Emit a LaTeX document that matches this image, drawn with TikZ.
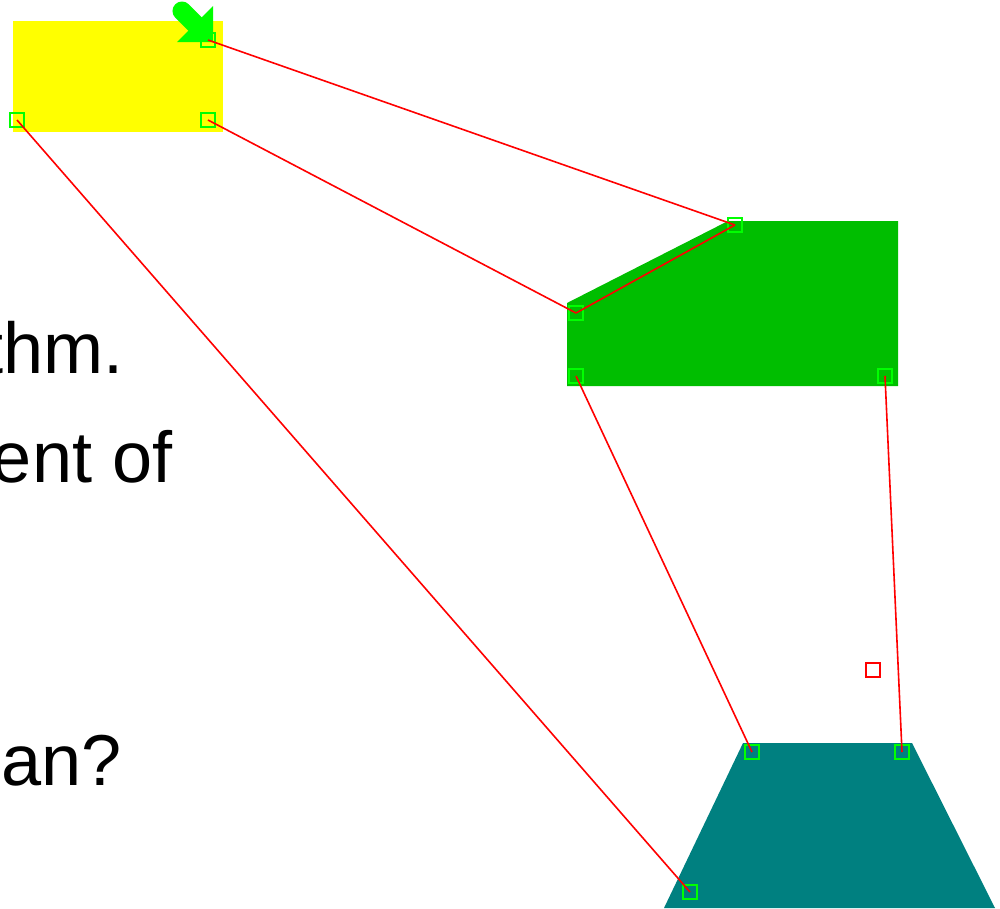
\documentclass[tikz,border=0pt]{standalone}
\usepackage{fontspec}
\setmainfont{Liberation Sans}
\definecolor{ylw}{RGB}{255,255,0}
\definecolor{grn}{RGB}{0,190,0}
\definecolor{tealc}{RGB}{0,128,128}
\definecolor{hgrn}{RGB}{0,255,0}
\definecolor{rline}{RGB}{255,0,0}
\begin{document}
\begin{tikzpicture}[x=0.01cm,y=-0.01cm,
  handle/.style={draw=hgrn,line width=0.022cm,minimum size=0.145cm,inner sep=0pt,outer sep=0pt},
  marker/.style={draw=rline,line width=0.022cm,minimum size=0.145cm,inner sep=0pt,outer sep=0pt},
  link/.style={draw=rline,line width=0.016cm},
  bigtext/.style={font=\fontsize{20.5}{25}\selectfont,anchor=base east,inner sep=0pt}]
\useasboundingbox (0,0) rectangle (1000,908);
% shapes
\fill[ylw] (13,21) rectangle (223,132);
\fill[grn] (567,303) -- (728,221) -- (898,221) -- (898,386) -- (567,386) -- cycle;
\fill[tealc] (743,743) -- (912,743) -- (995,908) -- (664,908) -- cycle;
% green arrow
\fill[hgrn] (213,6) -- (213,42) -- (177,42) -- cycle;
\draw[hgrn,line width=0.19cm,line cap=round] (198,27) -- (182,11);
% text
\node[bigtext] (t1) at (124,373) {thm.};
\node[bigtext] (t2) at (173,482) {ent of};
\node[bigtext] (t3) at (122,785) {ean?};
% handles
\node[handle] (y1) at (208,40) {};
\node[handle] (y2) at (17,120) {};
\node[handle] (y3) at (208,120) {};
\node[handle] (g1) at (735,225) {};
\node[handle] (g2) at (576,313) {};
\node[handle] (g3) at (576,376) {};
\node[handle] (g4) at (885,376) {};
\node[handle] (c1) at (752,752) {};
\node[handle] (c2) at (902,752) {};
\node[handle] (c3) at (690,892) {};
\node[marker] (m1) at (873,670) {};
% links
\draw[link] (y1.center) -- (g1.center);
\draw[link] (y3.center) -- (g2.center);
\draw[link] (g2.center) -- (g1.center);
\draw[link] (y2.center) -- (c3.center);
\draw[link] (g3.center) -- (c1.center);
\draw[link] (g4.center) -- (c2.center);
\end{tikzpicture}
\end{document}
